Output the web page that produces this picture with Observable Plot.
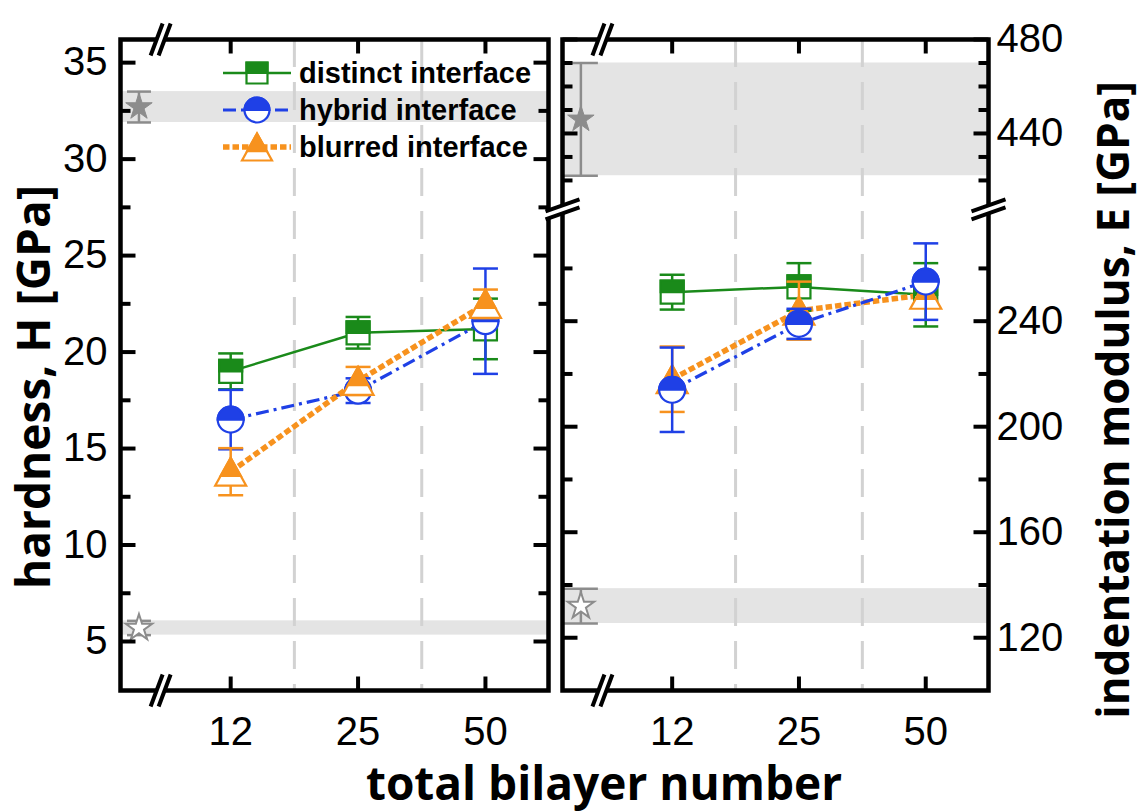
<!DOCTYPE html>
<html><head><meta charset="utf-8">
<script src="https://cdn.jsdelivr.net/npm/d3@7"></script>
<script src="https://cdn.jsdelivr.net/npm/@observablehq/plot@0.6"></script>
<style>
html,body{margin:0;padding:0;background:#fff;}
#wrap{position:relative;width:1143px;height:812px;overflow:hidden;background:#fff;}
#left{position:absolute;left:0;top:0;width:556px;}
#right{position:absolute;left:550px;top:0;width:593px;}
#xtitle{position:absolute;left:0;top:767px;width:1208px;text-align:center;font-family:'Open Sans',sans-serif;font-weight:bold;font-size:46px;line-height:30px;white-space:nowrap;}
</style></head><body>
<div id="wrap"><div id="left"></div><div id="right"></div><div id="xtitle">total bilayer number</div></div>
<script>
// ---------- data ----------
const bilayers = [12, 25, 50];
const seriesNames = ["distinct interface", "hybrid interface", "blurred interface"];
const seriesColors = ["#1a8a1a", "#1f40e6", "#f7921e"];

const hardDistinct = [19.0, 21.0, 21.2];
const hardDistinctErr = [0.93, 0.82, 1.57];
const hardHybrid = [16.5, 18.0, 21.6];
const hardHybridErr = [1.54, 0.64, 2.73];
const hardBlurred = [13.8, 18.5, 22.5];
const hardBlurredErr = [1.22, 0.73, 0.74];

const modDistinct = [251, 253, 250];
const modDistinctErr = [6.6, 9, 12];
const modHybrid = [214, 239, 255];
const modHybridErr = [16, 5.7, 14.5];
const modBlurred = [218, 244, 250];
const modBlurredErr = [12.4, 11, 4];

const hardRef = [32.7, 5.7];
const hardRefErr = [0.8, 0.37];
const modRef = [446, 132];
const modRefErr = [24, 6.6];
const refFilled = [true, false];

const hardMajorTicks = [5, 10, 15, 20, 25, 30, 35];
const hardMinorTicks = [7.5, 12.5, 17.5, 22.5, 27.5, 32.5];
const modMajorTicks = [120, 160, 200, 240, 440, 480];
const modMinorTicks = [140, 180, 220, 260, 420, 430, 450, 460, 470];
const modBreak = [282.4, 407.7];

const gridX = [1.5, 2.5];
const refX = 0.28;
const breakX = 0.45;
const xDomain = [0.135, 3.495];

// broken-axis mapping for the modulus panel (upper segment compressed)
const upperRatio = 0.8905;
const modMap = v => v <= modBreak[0] ? v : v >= modBreak[1] ? modBreak[0] + (v - modBreak[1]) * upperRatio : modBreak[0];
const identity = v => v;

// ---------- symbols ----------
const R = s => Math.sqrt(s / Math.PI);
const squareFull = {draw(c, s) { const r = R(s); c.moveTo(-r, -r); c.lineTo(r, -r); c.lineTo(r, r); c.lineTo(-r, r); c.closePath(); }};
const squareTop = {draw(c, s) { const r = R(s); c.moveTo(-r, -r); c.lineTo(r, -r); c.lineTo(r, 0); c.lineTo(-r, 0); c.closePath(); }};
const circleFull = {draw(c, s) { const r = R(s); c.moveTo(r, 0); c.arc(0, 0, r, 0, 2 * Math.PI); c.closePath(); }};
const circleTop = {draw(c, s) { const r = R(s); c.moveTo(-r, 0); c.arc(0, 0, r, Math.PI, 2 * Math.PI); c.closePath(); }};
const triFull = {draw(c, s) { const r = R(s), h = 0.9 * r; c.moveTo(0, -h); c.lineTo(r, h); c.lineTo(-r, h); c.closePath(); }};
const triTop = {draw(c, s) { const r = R(s), h = 0.9 * r, yb = 0.3 * h, w = 0.65 * r; c.moveTo(0, -h); c.lineTo(w, yb); c.lineTo(-w, yb); c.closePath(); }};
const hLine = {draw(c, s) { const r = R(s); c.moveTo(-r, 0); c.lineTo(r, 0); }};
const tickIn = (dx, dy) => ({draw(c, s) { const r = R(s); c.moveTo(0, 0); c.lineTo(dx * r, dy * r); }});
const breakVBg = {draw(c) { c.moveTo(-10, 16); c.lineTo(-2, 16); c.lineTo(10, -16); c.lineTo(2, -16); c.closePath(); }};
const breakVLines = {draw(c) { c.moveTo(-10, 16); c.lineTo(2, -16); c.moveTo(-2, 16); c.lineTo(10, -16); }};
const breakHBg = {draw(c) { c.moveTo(-17, 2); c.lineTo(17, -10); c.lineTo(17, -2); c.lineTo(-17, 10); c.closePath(); }};
const breakHLines = {draw(c) { c.moveTo(-17, 2); c.lineTo(17, -10); c.moveTo(-17, 10); c.lineTo(17, -2); }};

const styles = [
  {sym: [squareFull, squareTop], r: 11.5, width: 2.5, dash: undefined},
  {sym: [circleFull, circleTop], r: 13, width: 3.2, dash: "13,5,3,5"},
  {sym: [triFull, triTop], r: 15.5, width: 5.5, dash: "6.5,3"}
];
const refGray = "#8c8c8c";
const bandGray = "#e4e4e4";

function makeRows(vals, errs) { return bilayers.map((b, k) => ({pos: k + 1, label: b, value: vals[k], err: errs[k]})); }
function makeRefs(vals, errs) { return vals.map((v, k) => ({value: v, err: errs[k], filled: refFilled[k]})); }

function lineMark(rows, k, f) {
  return Plot.line(rows, {x: "pos", y: d => f(d.value), stroke: seriesColors[k], strokeWidth: styles[k].width, strokeDasharray: styles[k].dash, strokeLinecap: "butt", strokeLinejoin: "miter"});
}
function seriesMarks(rows, k, f) {
  const c = seriesColors[k], st = styles[k];
  return [
    Plot.ruleX(rows, {x: "pos", y1: d => f(d.value - d.err), y2: d => f(d.value + d.err), stroke: c, strokeWidth: 2.5}),
    Plot.dot(rows, {x: "pos", y: d => f(d.value - d.err), symbol: hLine, r: 12.5, stroke: c, strokeWidth: 2.5, fill: "none"}),
    Plot.dot(rows, {x: "pos", y: d => f(d.value + d.err), symbol: hLine, r: 12.5, stroke: c, strokeWidth: 2.5, fill: "none"}),
    Plot.dot(rows, {x: "pos", y: d => f(d.value), symbol: st.sym[0], r: st.r, fill: "white", stroke: c, strokeWidth: 2.2}),
    Plot.dot(rows, {x: "pos", y: d => f(d.value), symbol: st.sym[1], r: st.r, fill: c, stroke: c, strokeWidth: 2.2})
  ];
}
function refMarks(refs, capR, f) {
  return [
    Plot.rect(refs, {x1: xDomain[0], x2: xDomain[1], y1: d => f(d.value - d.err), y2: d => f(d.value + d.err), fill: bandGray}),
    Plot.ruleX(gridX, {stroke: "#d2d2d2", strokeWidth: 3, strokeDasharray: "28,15"}),
    Plot.ruleX(refs, {x: refX, y1: d => f(d.value - d.err), y2: d => f(d.value + d.err), stroke: refGray, strokeWidth: 2.5}),
    Plot.dot(refs, {x: refX, y: d => f(d.value - d.err), symbol: hLine, r: capR, stroke: refGray, strokeWidth: 2.5, fill: "none"}),
    Plot.dot(refs, {x: refX, y: d => f(d.value + d.err), symbol: hLine, r: capR, stroke: refGray, strokeWidth: 2.5, fill: "none"}),
    Plot.dot(refs.filter(d => d.filled), {x: refX, y: d => f(d.value), symbol: "star", r: 8.3, fill: refGray, stroke: refGray, strokeWidth: 1}),
    Plot.dot(refs.filter(d => !d.filled), {x: refX, y: d => f(d.value), symbol: "star", r: 8.3, fill: "white", stroke: refGray, strokeWidth: 2})
  ];
}
function tickMarks(major, minor, f) {
  const m = [];
  for (const [ticks, len] of [[major, 15], [minor, 10]]) {
    m.push(Plot.dot(ticks, {y: d => f(d), frameAnchor: "left", symbol: tickIn(1, 0), r: len, stroke: "black", strokeWidth: 4}));
    m.push(Plot.dot(ticks, {y: d => f(d), frameAnchor: "right", symbol: tickIn(-1, 0), r: len, stroke: "black", strokeWidth: 4}));
  }
  const xt = bilayers.map((b, k) => k + 1);
  m.push(Plot.dot(xt, {x: d => d, frameAnchor: "bottom", symbol: tickIn(0, -1), r: 14, stroke: "black", strokeWidth: 4}));
  m.push(Plot.dot(xt, {x: d => d, frameAnchor: "top", symbol: tickIn(0, 1), r: 14, stroke: "black", strokeWidth: 4}));
  return m;
}
function breakMarks() {
  return [
    Plot.dot([breakX], {x: d => d, frameAnchor: "top", symbol: breakVBg, r: 1, fill: "white", stroke: "none"}),
    Plot.dot([breakX], {x: d => d, frameAnchor: "top", symbol: breakVLines, r: 1, fill: "none", stroke: "black", strokeWidth: 4}),
    Plot.dot([breakX], {x: d => d, frameAnchor: "bottom", symbol: breakVBg, r: 1, fill: "white", stroke: "none"}),
    Plot.dot([breakX], {x: d => d, frameAnchor: "bottom", symbol: breakVLines, r: 1, fill: "none", stroke: "black", strokeWidth: 4})
  ];
}
const baseStyle = {background: "transparent", fontFamily: "'Liberation Sans', Arial, sans-serif", fontSize: "40px", overflow: "visible", maxWidth: "none", color: "black"};
const xOpts = {domain: xDomain, ticks: bilayers.map((b, k) => k + 1), tickFormat: d => bilayers[d - 1], tickSize: 0, tickPadding: 26, label: null};
const titleFont = "'Open Sans', sans-serif";

// ---------- left panel (hardness) ----------
const hRows = [makeRows(hardDistinct, hardDistinctErr), makeRows(hardHybrid, hardHybridErr), makeRows(hardBlurred, hardBlurredErr)];
const hRefs = makeRefs(hardRef, hardRefErr);
const leftOrder = [0, 1, 2];
const leftSvg = Plot.plot({
  width: 556, height: 790,
  marginLeft: 120, marginRight: 8, marginTop: 39, marginBottom: 100,
  style: baseStyle,
  x: {...xOpts, axis: "bottom"},
  y: {domain: [2.46, 36.2], ticks: hardMajorTicks, tickSize: 0, tickPadding: 13, label: null, axis: "left"},
  marks: [
    ...refMarks(hRefs, 12, identity),
    ...leftOrder.map(k => lineMark(hRows[k], k, identity)),
    ...leftOrder.flatMap(k => seriesMarks(hRows[k], k, identity)),
    ...tickMarks(hardMajorTicks, hardMinorTicks, identity),
    Plot.frame({stroke: "black", strokeWidth: 4.5}),
    ...breakMarks(),
    Plot.text(["hardness, H [GPa]"], {frameAnchor: "left", textAnchor: "middle", dx: -85, dy: 22, rotate: -90, fontSize: 46, fontWeight: "bold", fontFamily: titleFont, fill: "black"})
  ]
});
document.getElementById("left").appendChild(leftSvg);

// legend (inside left panel)
const lg = d3.select(leftSvg).append("g");
seriesNames.forEach((name, k) => {
  const y = 73 + k * 37, st = styles[k], c = seriesColors[k];
  lg.append("line").attr("x1", 223).attr("x2", 291).attr("y1", y).attr("y2", y)
    .attr("stroke", c).attr("stroke-width", st.width).attr("stroke-dasharray", st.dash || null);
  const size = (k === 0 ? 10.5 : k === 1 ? 12.5 : 15) ** 2 * Math.PI;
  lg.append("path").attr("transform", `translate(257,${y})`).attr("d", d3.symbol(st.sym[0], size)())
    .attr("fill", "white").attr("stroke", c).attr("stroke-width", 2.2);
  lg.append("path").attr("transform", `translate(257,${y})`).attr("d", d3.symbol(st.sym[1], size)())
    .attr("fill", c).attr("stroke", c).attr("stroke-width", 2.2);
  lg.append("text").attr("x", 299).attr("y", y).attr("dy", "0.35em").attr("text-anchor", "start")
    .attr("font-family", "'Liberation Sans', Arial, sans-serif").attr("font-weight", "bold").attr("font-size", 29)
    .attr("fill", "black").text(name);
});

// ---------- right panel (modulus) ----------
const eRows = [makeRows(modDistinct, modDistinctErr), makeRows(modHybrid, modHybridErr), makeRows(modBlurred, modBlurredErr)];
const eRefs = makeRefs(modRef, modRefErr);
const rightOrder = [0, 2, 1];
const rightSvg = Plot.plot({
  width: 593, height: 790,
  marginLeft: 12, marginRight: 155, marginTop: 39, marginBottom: 100,
  style: baseStyle,
  x: {...xOpts, axis: "bottom"},
  y: {domain: [100, modMap(480)], ticks: modMajorTicks.map(modMap),
      tickFormat: t => modMajorTicks.find(v => Math.abs(modMap(v) - t) < 1e-6),
      tickSize: 0, tickPadding: 8, label: null, axis: "right"},
  marks: [
    ...refMarks(eRefs, 17, modMap),
    ...rightOrder.map(k => lineMark(eRows[k], k, modMap)),
    ...rightOrder.flatMap(k => seriesMarks(eRows[k], k, modMap)),
    ...tickMarks(modMajorTicks, modMinorTicks, modMap),
    Plot.frame({stroke: "black", strokeWidth: 4.5}),
    ...breakMarks(),
    Plot.dot([modBreak[0]], {y: d => modMap(d), frameAnchor: "left", symbol: breakHBg, r: 1, fill: "white", stroke: "none"}),
    Plot.dot([modBreak[0]], {y: d => modMap(d), frameAnchor: "left", symbol: breakHLines, r: 1, fill: "none", stroke: "black", strokeWidth: 4}),
    Plot.dot([modBreak[0]], {y: d => modMap(d), frameAnchor: "right", symbol: breakHBg, r: 1, fill: "white", stroke: "none"}),
    Plot.dot([modBreak[0]], {y: d => modMap(d), frameAnchor: "right", symbol: breakHLines, r: 1, fill: "none", stroke: "black", strokeWidth: 4}),
    Plot.text(["indentation modulus, E [GPa]"], {frameAnchor: "right", textAnchor: "middle", dx: 126, dy: 35, rotate: -90, fontSize: 44, fontWeight: "bold", fontFamily: titleFont, fill: "black"})
  ]
});
document.getElementById("right").appendChild(rightSvg);
</script>
</body></html>
